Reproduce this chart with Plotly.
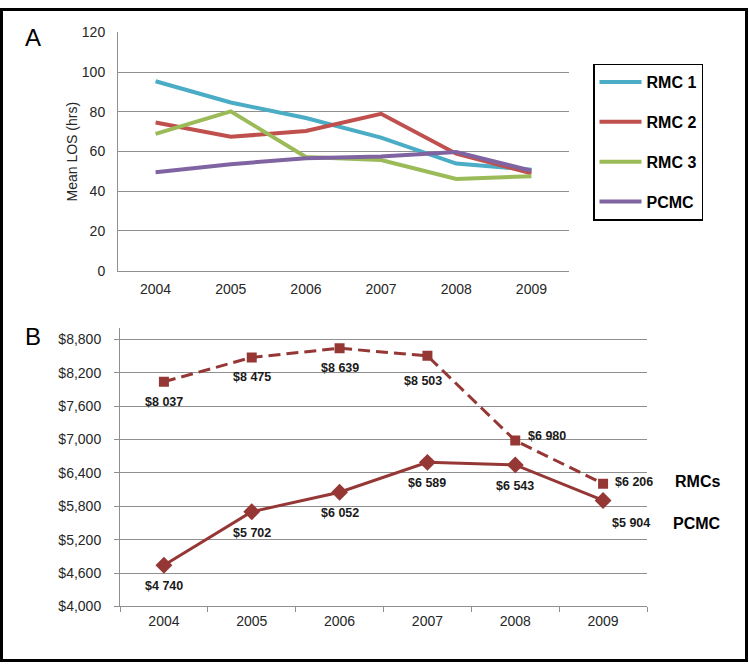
import plotly.graph_objects as go

# ---------------- data ----------------
years = ["2004", "2005", "2006", "2007", "2008", "2009"]

# Panel A: mean length of stay (hours)
los_rmc1 = [95.4, 84.7, 76.9, 67.0, 53.9, 50.8]
los_rmc2 = [74.6, 67.4, 70.3, 79.0, 58.9, 49.0]
los_rmc3 = [68.9, 80.2, 57.2, 55.7, 46.2, 47.5]
los_pcmc = [49.5, 53.6, 56.6, 57.5, 59.8, 50.3]
series_a_names = ["RMC 1", "RMC 2", "RMC 3", "PCMC"]

# Panel B: mean cost ($)
cost_rmcs = [8037, 8475, 8639, 8503, 6980, 6206]
cost_pcmc = [4740, 5702, 6052, 6589, 6543, 5904]

W, H = 749, 672
def px(x): return x / W
def py(y): return 1 - y / H

colors_a = ["#4BACC6", "#C0504D", "#9BBB59", "#8064A2"]
dark_red = "#953735"
grid_col = "#8f8f8f"
tick_font = dict(family="Liberation Sans, Arial, sans-serif", size=14, color="#262626")

fig = go.Figure()

for i, (name, vals) in enumerate(zip(series_a_names, [los_rmc1, los_rmc2, los_rmc3, los_pcmc])):
    fig.add_trace(go.Scatter(
        x=years, y=vals, mode="lines", name=name,
        line=dict(color=colors_a[i], width=4),
        xaxis="x", yaxis="y", legendgroup=name, showlegend=True,
    ))

fig.add_trace(go.Scatter(
    x=years, y=cost_rmcs, mode="lines+markers", name="RMCs",
    line=dict(color=dark_red, width=3, dash="12px,6px"),
    marker=dict(symbol="square", size=10, color=dark_red),
    xaxis="x2", yaxis="y2", showlegend=False,
))
fig.add_trace(go.Scatter(
    x=years, y=cost_pcmc, mode="lines+markers", name="PCMC",
    line=dict(color=dark_red, width=3),
    marker=dict(symbol="diamond", size=13, color=dark_red),
    xaxis="x2", yaxis="y2", showlegend=False,
))

def money(v):
    return "$" + f"{v:,}".replace(",", " ")

label_font = dict(family="Liberation Sans, Arial, sans-serif",
                  size=12.5, color="#1a1a1a", weight="bold")

annotations = []
# label offsets (pixels) relative to each point
rmcs_off = [(0, -20), (0, -20), (0, -20), (-4, -25), (32, 5), (31, 2)]
pcmc_off = [(0, -21), (0, -21), (0, -21), (0, -21), (0, -21), (28, -23)]
for i, (v, (dx, dy)) in enumerate(zip(cost_rmcs, rmcs_off)):
    annotations.append(dict(x=i, y=v, xref="x2", yref="y2", text=money(v), showarrow=False,
                            xanchor="center", yanchor="middle",
                            xshift=dx, yshift=dy, font=label_font))
for i, (v, (dx, dy)) in enumerate(zip(cost_pcmc, pcmc_off)):
    annotations.append(dict(x=i, y=v, xref="x2", yref="y2", text=money(v), showarrow=False,
                            xanchor="center", yanchor="middle",
                            xshift=dx, yshift=dy, font=label_font))

# series names at right of panel B
name_font = dict(family="Liberation Sans, Arial, sans-serif", size=16, color="black", weight="bold")
annotations.append(dict(x=px(697), y=py(485), xref="paper", yref="paper", text="RMCs",
                        xanchor="center", yanchor="middle", showarrow=False, font=name_font))
annotations.append(dict(x=px(697), y=py(528), xref="paper", yref="paper", text="PCMC",
                        xanchor="center", yanchor="middle", showarrow=False, font=name_font))

# panel letters
letter_font = dict(family="Liberation Sans, Arial, sans-serif", size=24, color="black")
annotations.append(dict(x=px(33), y=py(30), xref="paper", yref="paper", text="A",
                        xanchor="center", yanchor="middle", showarrow=False, font=letter_font))
annotations.append(dict(x=px(33), y=py(336), xref="paper", yref="paper", text="B",
                        xanchor="center", yanchor="middle", showarrow=False, font=letter_font))

# y-axis title panel A
annotations.append(dict(x=px(71), y=py(147), xref="paper", yref="paper", text="Mean LOS (hrs)",
                        textangle=-90, showarrow=False, xanchor="center", yanchor="middle",
                        font=dict(family="Liberation Sans, Arial, sans-serif", size=14, color="#262626")))

fig.update_layout(
    width=W, height=H, autosize=False,
    margin=dict(l=0, r=0, t=0, b=0),
    paper_bgcolor="white", plot_bgcolor="white",
    xaxis=dict(domain=[px(118), px(569)], type="category", range=[-0.5, 5.5],
               showline=True, linecolor=grid_col, linewidth=1, showgrid=False,
               ticks="", tickfont=tick_font, anchor="y", ticklabelstandoff=6),
    yaxis=dict(domain=[py(269), py(25)], range=[0, 120], dtick=20, tick0=0,
               showline=True, linecolor=grid_col, linewidth=1,
               showgrid=True, gridcolor=grid_col, gridwidth=1, ticks="",
               tickfont=tick_font, anchor="x", zeroline=False, ticklabelstandoff=9),
    xaxis2=dict(domain=[px(120), px(647)], type="category", range=[-0.5, 5.5],
                showline=True, linecolor=grid_col, linewidth=1, showgrid=False,
                ticks="outside", tickson="boundaries", ticklen=5, tickcolor=grid_col,
                tickfont=tick_font, anchor="y2", ticklabelstandoff=2),
    yaxis2=dict(domain=[py(613), py(328)], range=[4000, 9000], dtick=600, tick0=4000,
                tickprefix="$", tickformat=",",
                showline=True, linecolor=grid_col, linewidth=1,
                showgrid=True, gridcolor=grid_col, gridwidth=1,
                ticks="outside", ticklen=5, tickcolor=grid_col,
                tickfont=tick_font, anchor="x2", zeroline=False, ticklabelstandoff=10),
    legend=dict(x=px(593), y=py(57), xanchor="left", yanchor="top",
                bordercolor="black", borderwidth=1.5, bgcolor="white",
                font=dict(family="Liberation Sans, Arial, sans-serif", size=16, color="black", weight="bold"),
                tracegroupgap=16, itemwidth=42, entrywidth=72, entrywidthmode="pixels"),
    annotations=annotations,
    shapes=[dict(type="rect", xref="paper", yref="paper",
                 x0=px(1.5), x1=px(746.5), y0=py(668.5), y1=py(1.5),
                 line=dict(color="black", width=3))],
    showlegend=True,
)

fig.write_html("out.html", config={"displayModeBar": False},
               post_script="document.body.style.margin='0';document.body.style.overflow='hidden';")
